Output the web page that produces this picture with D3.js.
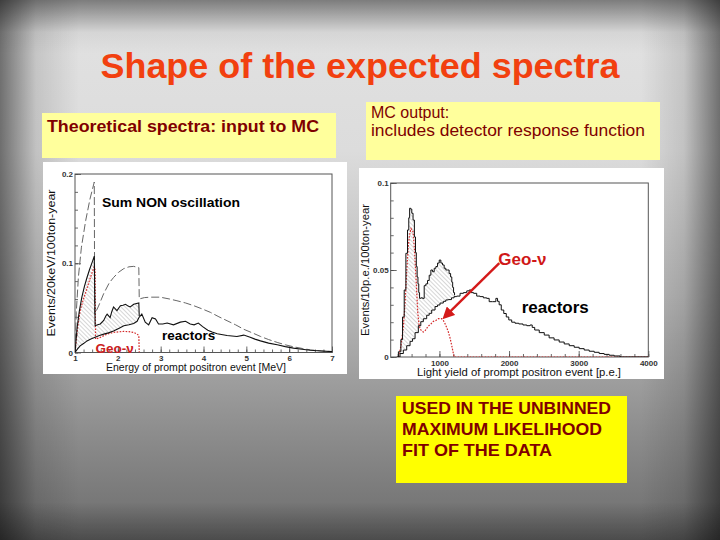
<!DOCTYPE html>
<html>
<head>
<meta charset="utf-8">
<script src="https://cdn.jsdelivr.net/npm/d3@7"></script>
<style>
  body { margin: 0; background: #fff; }
  svg { display: block; font-family: "Liberation Sans", Arial, sans-serif; }
</style>
</head>
<body>
<svg id="slide" width="720" height="540"></svg>
<script>
// ---- theoretical spectra (left), x = MeV, y = events/20keV/100ton-year
const sumNonOsc = [[1.00,0.000],[1.03,0.045],[1.08,0.085],[1.15,0.118],[1.25,0.148],[1.35,0.172],[1.45,0.191],
  [1.46,0.043],[1.55,0.052],[1.67,0.066],[1.80,0.078],[1.90,0.084],[2.02,0.090],[2.14,0.094],[2.26,0.096],[2.37,0.0965],[2.49,0.095],
  [2.50,0.060],[2.62,0.0615],[2.76,0.062],[2.99,0.062],[3.20,0.060],[3.38,0.058],[3.58,0.0555],[3.77,0.0525],[3.96,0.049],
  [4.16,0.045],[4.36,0.040],[4.55,0.0356],[4.75,0.031],[4.94,0.026],[5.14,0.022],[5.33,0.018],[5.52,0.0145],[5.72,0.0113],
  [5.91,0.0086],[6.10,0.0064],[6.30,0.0046],[6.49,0.003],[6.75,0.0018],[7.00,0.001]];
const sumOsc = [[1.00,0.000],[1.05,0.028],[1.10,0.046],[1.16,0.062],[1.22,0.074],[1.28,0.084],[1.34,0.093],[1.40,0.101],[1.45,0.108],
  [1.47,0.030],[1.53,0.031],[1.59,0.032],[1.67,0.036],[1.72,0.041],[1.75,0.043],[1.82,0.039],[1.86,0.046],[1.90,0.051],[1.98,0.047],
  [2.06,0.0525],[2.12,0.053],[2.18,0.054],[2.24,0.052],[2.29,0.051],[2.37,0.054],[2.49,0.0555],[2.50,0.041]];
const reactorsTheo = [[1.00,0.000],[1.06,0.004],[1.12,0.0075],[1.20,0.010],[1.28,0.013],[1.37,0.015],[1.47,0.017],[1.57,0.019],
  [1.67,0.0206],[1.78,0.022],[1.90,0.024],[2.02,0.027],[2.14,0.030],[2.26,0.031],[2.37,0.0326],[2.45,0.035],[2.49,0.039],[2.56,0.043],
  [2.64,0.034],[2.72,0.031],[2.80,0.039],[2.88,0.0375],[2.95,0.032],[3.05,0.032],[3.15,0.033],[3.30,0.031],[3.46,0.034],[3.58,0.035],
  [3.69,0.032],[3.78,0.031],[3.88,0.033],[3.98,0.029],[4.10,0.025],[4.20,0.023],[4.32,0.021],[4.55,0.019],[4.78,0.018],[4.94,0.0195],
  [5.09,0.017],[5.20,0.015],[5.33,0.013],[5.52,0.0105],[5.72,0.0086],[5.91,0.0066],[6.10,0.0049],[6.30,0.0036],[6.49,0.0026],
  [6.75,0.0017],[7.00,0.001]];
const geoTheo = [[1.00,0.000],[1.05,0.024],[1.12,0.047],[1.18,0.057],[1.24,0.066],[1.30,0.075],[1.36,0.084],[1.41,0.091],[1.45,0.096],
  [1.47,0.092],[1.48,0.015],[1.59,0.017],[1.75,0.0206],[1.90,0.0225],[2.02,0.0232],[2.14,0.0236],[2.26,0.0234],[2.37,0.0225],
  [2.45,0.0206],[2.49,0.019],[2.50,0.000]];

// ---- MC output (right), x = light yield p.e., y = events/10p.e./100ton-year
const mcTotal = [[387,0],[434,0.003],[458,0.010],[482,0.023],[506,0.0385],[530,0.0596],[553,0.073],[566,0.080],[578,0.0855],
  [595,0.085],[611,0.0826],[631,0.0787],[650,0.069],[662,0.060],[674,0.052],[686,0.046],[697,0.042],[709,0.037],[720,0.0337],
  [745,0.034],[769,0.0337],[793,0.041],[817,0.042],[841,0.044],[865,0.047],[889,0.050],[913,0.049],[937,0.051],[961,0.052],
  [985,0.054],[1009,0.0557],[1032,0.054],[1056,0.0529],[1080,0.051],[1104,0.050],[1128,0.050],[1150,0.048],[1171,0.046],
  [1184,0.043],[1196,0.040],[1210,0.037],[1224,0.0356]];
const mcReactors = [[410,0],[458,0.002],[506,0.004],[554,0.0065],[602,0.009],[626,0.0105],[674,0.014],[720,0.018],[745,0.0203],
  [793,0.022],[841,0.024],[865,0.0251],[913,0.027],[961,0.029],[985,0.0299],[1032,0.031],[1080,0.032],[1104,0.0328],[1150,0.033],
  [1196,0.034],[1224,0.0347],[1272,0.035],[1320,0.0366],[1370,0.037],[1415,0.038],[1440,0.0385],[1470,0.037],[1511,0.0366],
  [1560,0.035],[1607,0.0347],[1655,0.034],[1703,0.0337],[1726,0.0318],[1798,0.0318],[1823,0.0337],[1846,0.032],[1870,0.030],
  [1906,0.027],[1942,0.025],[1978,0.023],[2014,0.0213],[2062,0.020],[2110,0.0194],[2170,0.019],[2229,0.0184],[2280,0.018],
  [2325,0.0184],[2340,0.017],[2397,0.0155],[2470,0.014],[2541,0.0126],[2610,0.011],[2684,0.0098],[2756,0.0086],[2828,0.0075],
  [2900,0.0065],[2971,0.0056],[3043,0.0048],[3115,0.004],[3187,0.0033],[3259,0.0027],[3330,0.002],[3402,0.0015],[3474,0.001],
  [3546,0.0006],[3642,0],[4000,0]];
const mcGeo = [[410,0],[446,0.006],[482,0.0174],[506,0.0307],[530,0.049],[553,0.064],[570,0.070],[592,0.0738],[621,0.072],
  [640,0.0623],[664,0.045],[688,0.0259],[705,0.019],[721,0.0163],[745,0.015],[769,0.0144],[793,0.015],[817,0.0165],[841,0.0178],
  [877,0.019],[913,0.0205],[949,0.021],[985,0.022],[1032,0.022],[1056,0.021],[1080,0.0192],[1104,0.017],[1128,0.0144],
  [1152,0.011],[1176,0.0067],[1195,0.003],[1210,0],[4000,0]];

// ---- ticks
const theoTicksX = [1, 2, 3, 4, 5, 6, 7];
const theoTicksY = [0, 0.1, 0.2];
const mcTicksX = [1000, 2000, 3000, 4000];
const mcTicksY = [0, 0.05, 0.1];

const svg = d3.select("#slide");
const defs = svg.append("defs");

// background: grey slide with darker bevelled edges
const bg = defs.append("linearGradient").attr("id", "bgV").attr("x1", 0).attr("y1", 0).attr("x2", 0).attr("y2", 1);
[[0, "#e2e2e2"], [0.28, "#dcdcdc"], [0.55, "#b9b9b9"], [0.8, "#8d8d8d"], [1, "#6c6c6c"]]
  .forEach(([o, c]) => bg.append("stop").attr("offset", o).attr("stop-color", c));
const edgeH = defs.append("linearGradient").attr("id", "edgeH");
[[0, 0.5], [0.05, 0.12], [0.11, 0], [0.89, 0], [0.95, 0.12], [1, 0.5]]
  .forEach(([o, a]) => edgeH.append("stop").attr("offset", o).attr("stop-color", "#000").attr("stop-opacity", a));
const edgeV = defs.append("linearGradient").attr("id", "edgeV").attr("x1", 0).attr("y1", 0).attr("x2", 0).attr("y2", 1);
[[0, 0.45], [0.06, 0.05], [0.1, 0], [0.93, 0], [1, 0.3]]
  .forEach(([o, a]) => edgeV.append("stop").attr("offset", o).attr("stop-color", "#000").attr("stop-opacity", a));

svg.append("rect").attr("width", 720).attr("height", 540).attr("fill", "url(#bgV)");
svg.append("rect").attr("width", 720).attr("height", 540).attr("fill", "url(#edgeH)");
svg.append("rect").attr("width", 720).attr("height", 540).attr("fill", "url(#edgeV)");

// hatch + arrow
const hatch = defs.append("pattern").attr("id", "hatch").attr("patternUnits", "userSpaceOnUse")
  .attr("width", 3).attr("height", 3).attr("patternTransform", "rotate(-45)");
hatch.append("line").attr("x1", 0).attr("y1", 0).attr("x2", 0).attr("y2", 3)
  .attr("stroke", "#8a8a8a").attr("stroke-width", 0.7);
defs.append("marker").attr("id", "arrow").attr("viewBox", "0 0 10 10").attr("refX", 7).attr("refY", 5)
  .attr("markerWidth", 5).attr("markerHeight", 5).attr("orient", "auto")
  .append("path").attr("d", "M0,0 L10,5 L0,10 z").attr("fill", "#d41a1a");

// title
svg.append("text").attr("x", 360).attr("y", 78).attr("text-anchor", "middle")
  .attr("font-size", 35).attr("font-weight", "bold").attr("fill", "#f2400f")
  .attr("textLength", 519).attr("lengthAdjust", "spacingAndGlyphs")
  .text("Shape of the expected spectra");

// yellow boxes
const darkRed = "#800000";
svg.append("rect").attr("x", 42).attr("y", 113).attr("width", 294).attr("height", 45).attr("fill", "#ffff9c");
svg.append("text").attr("x", 47).attr("y", 132).attr("font-size", 16.5).attr("font-weight", "bold").attr("fill", darkRed)
  .attr("textLength", 272).attr("lengthAdjust", "spacingAndGlyphs").text("Theoretical spectra: input to MC");

svg.append("rect").attr("x", 366).attr("y", 102).attr("width", 294).attr("height", 58).attr("fill", "#ffff9c");
svg.append("text").attr("x", 371).attr("y", 117.5).attr("font-size", 16).attr("fill", darkRed).text("MC output:");
svg.append("text").attr("x", 371).attr("y", 136).attr("font-size", 16).attr("fill", darkRed)
  .attr("textLength", 274).attr("lengthAdjust", "spacingAndGlyphs").text("includes detector response function");

svg.append("rect").attr("x", 396).attr("y", 396).attr("width", 231).attr("height", 87).attr("fill", "#ffff00");
[["USED IN THE UNBINNED", 414, 209], ["MAXIMUM LIKELIHOOD", 435, 200], ["FIT OF THE DATA", 456, 150]]
  .forEach(([t, yy, w]) => svg.append("text").attr("x", 402).attr("y", yy).attr("font-size", 17)
    .attr("font-weight", "bold").attr("fill", darkRed)
    .attr("textLength", w).attr("lengthAdjust", "spacingAndGlyphs").text(t));

// ---- generic ROOT-like panel
function panel(cfg) {
  const g = svg.append("g");
  g.append("rect").attr("x", cfg.box[0]).attr("y", cfg.box[1]).attr("width", cfg.box[2]).attr("height", cfg.box[3])
    .attr("fill", "#fff");
  const x = d3.scaleLinear().domain(cfg.xDomain).range(cfg.xRange);
  const y = d3.scaleLinear().domain(cfg.yDomain).range(cfg.yRange);
  const [x0, x1] = cfg.xRange, [y0, y1] = cfg.yRange;

  const clipId = cfg.id + "-clip";
  defs.append("clipPath").attr("id", clipId).append("rect")
    .attr("x", x0).attr("y", y1 - 1).attr("width", x1 - x0).attr("height", y0 - y1 + 1);

  const style = a => {
    a.select(".domain").remove();
    a.selectAll("line").attr("stroke", "#444").attr("stroke-width", 0.8);
    a.selectAll("text").attr("font-size", 8).attr("font-weight", "bold").attr("fill", "#333")
      .attr("font-family", "Liberation Sans, Arial, sans-serif");
  };
  g.append("g").attr("transform", `translate(0,${y0})`)
    .call(d3.axisBottom(x).tickValues(cfg.xMinor).tickSize(-3).tickFormat("")).call(style);
  g.append("g").attr("transform", `translate(${x0},0)`)
    .call(d3.axisLeft(y).tickValues(cfg.yMinor).tickSize(-3).tickFormat("")).call(style);
  g.append("g").attr("transform", `translate(0,${y0})`)
    .call(d3.axisBottom(x).tickValues(cfg.xTicks).tickSize(-6).tickPadding(3).tickFormat(d => String(d))).call(style);
  g.append("g").attr("transform", `translate(${x0},0)`)
    .call(d3.axisLeft(y).tickValues(cfg.yTicks).tickSize(-6).tickPadding(2).tickFormat(d => String(d))).call(style);

  g.append("rect").attr("x", x0).attr("y", y1).attr("width", x1 - x0).attr("height", y0 - y1)
    .attr("fill", "none").attr("stroke", "#555").attr("stroke-width", 1);

  g.append("text").attr("x", cfg.xTitle[0]).attr("y", cfg.xTitle[1]).attr("text-anchor", "middle")
    .attr("font-size", 10).attr("fill", "#111").attr("textLength", cfg.xTitle[2]).attr("lengthAdjust", "spacingAndGlyphs")
    .text(cfg.xLabel);
  g.append("text").attr("transform", `translate(${cfg.yTitle[0]},${cfg.yTitle[1]}) rotate(-90)`).attr("text-anchor", "middle")
    .attr("font-size", 10).attr("fill", "#111").attr("textLength", cfg.yTitle[2]).attr("lengthAdjust", "spacingAndGlyphs")
    .text(cfg.yLabel);

  const plot = g.append("g").attr("clip-path", `url(#${clipId})`);
  return { g, plot, x, y };
}

// ---- left: theoretical spectra
const L = panel({
  id: "theo", box: [43, 162, 304, 212],
  xDomain: [1, 7], xRange: [75, 332], yDomain: [0, 0.2], yRange: [352.5, 174],
  xTicks: theoTicksX, yTicks: theoTicksY,
  xMinor: d3.range(1, 7.001, 0.2), yMinor: d3.range(0, 0.2001, 0.02),
  xLabel: "Energy of prompt positron event [MeV]", xTitle: [196, 371, 180],
  yLabel: "Events/20keV/100ton-year", yTitle: [55, 263, 147]
});
{
  const line = d3.line().x(d => L.x(d[0])).y(d => L.y(d[1]));
  const band = sumOsc.concat(reactorsTheo.filter(d => d[0] < 2.5).reverse());
  L.plot.append("path").attr("d", line(band)).attr("fill", "url(#hatch)").attr("stroke", "none");
  L.plot.append("path").attr("d", line(geoTheo)).attr("fill", "none").attr("stroke", "#d42a2a")
    .attr("stroke-width", 1.2).attr("stroke-dasharray", "1.6,1.4");
  L.plot.append("path").attr("d", line(sumNonOsc)).attr("fill", "none").attr("stroke", "#666")
    .attr("stroke-width", 1).attr("stroke-dasharray", "8,3");
  L.plot.append("path").attr("d", line(reactorsTheo)).attr("fill", "none").attr("stroke", "#111").attr("stroke-width", 1.1);
  L.plot.append("path").attr("d", line(sumOsc)).attr("fill", "none").attr("stroke", "#111").attr("stroke-width", 1.1);

  L.g.append("text").attr("x", L.x(1.63)).attr("y", L.y(0.163)).attr("font-size", 13.5).attr("font-weight", "bold")
    .attr("fill", "#000").attr("textLength", 138).attr("lengthAdjust", "spacingAndGlyphs").text("Sum NON oscillation");
  L.g.append("text").attr("x", L.x(3.03)).attr("y", L.y(0.014)).attr("font-size", 13.5).attr("font-weight", "bold")
    .attr("fill", "#000").text("reactors");
  L.g.append("text").attr("x", L.x(1.48)).attr("y", L.y(0.0)).attr("font-size", 13.5).attr("font-weight", "bold")
    .attr("fill", "#cc2020").text("Geo-ν");
}

// ---- right: MC output
const R = panel({
  id: "mc", box: [359, 168, 305, 211],
  xDomain: [300, 4000], xRange: [390.7, 648.3], yDomain: [0, 0.1], yRange: [357, 183],
  xTicks: mcTicksX, yTicks: mcTicksY,
  xMinor: d3.range(400, 4001, 200), yMinor: d3.range(0, 0.1001, 0.01),
  xLabel: "Light yield of prompt positron event [p.e.]", xTitle: [519, 376, 204],
  yLabel: "Events/10p.e./100ton-year", yTitle: [369, 270, 132]
});
{
  const step = d3.line().x(d => R.x(d[0])).y(d => R.y(d[1])).curve(d3.curveStep);
  const line = d3.line().x(d => R.x(d[0])).y(d => R.y(d[1]));
  const band = mcTotal.concat(mcReactors.filter(d => d[0] <= 1224).reverse());
  R.plot.append("path").attr("d", step(band)).attr("fill", "url(#hatch)").attr("stroke", "none");
  R.plot.append("path").attr("d", line(mcGeo)).attr("fill", "none").attr("stroke", "#d42a2a")
    .attr("stroke-width", 1.2).attr("stroke-dasharray", "1.6,1.4");
  R.plot.append("path").attr("d", step(mcReactors)).attr("fill", "none").attr("stroke", "#111").attr("stroke-width", 1);
  R.plot.append("path").attr("d", step(mcTotal)).attr("fill", "none").attr("stroke", "#111").attr("stroke-width", 1);

  R.g.append("line").attr("x1", R.x(1860)).attr("y1", R.y(0.0539)).attr("x2", R.x(1080)).attr("y2", R.y(0.0232))
    .attr("stroke", "#d41a1a").attr("stroke-width", 2.4).attr("marker-end", "url(#arrow)");
  R.g.append("text").attr("x", R.x(1846)).attr("y", R.y(0.0529)).attr("font-size", 17).attr("font-weight", "bold")
    .attr("fill", "#d01818").text("Geo-ν");
  R.g.append("text").attr("x", R.x(2182)).attr("y", R.y(0.0253)).attr("font-size", 17).attr("font-weight", "bold")
    .attr("fill", "#000").text("reactors");
}
</script>
</body>
</html>
